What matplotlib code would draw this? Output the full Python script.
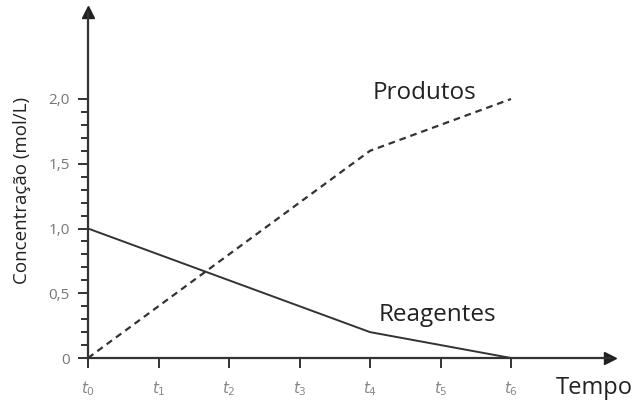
import matplotlib.pyplot as plt
from matplotlib.ticker import FixedLocator

plt.rcParams['font.family'] = ['Open Sans', 'DejaVu Sans']

# data
tempos = [0, 1, 2, 3, 4, 5, 6]
tempo_labels = ['$t_0$', '$t_1$', '$t_2$', '$t_3$', '$t_4$', '$t_5$', '$t_6$']
reagentes = [1.0, 0.8, 0.6, 0.4, 0.2, 0.1, 0.0]
produtos = [0.0, 0.4, 0.8, 1.2, 1.6, 1.8, 2.0]
y_ticks = [0, 0.5, 1.0, 1.5, 2.0]
y_labels = ['0', '0,5', '1,0', '1,5', '2,0']
y_minor = [i / 10 for i in range(21)]

W, H = 634, 403
fig = plt.figure(figsize=(W / 100, H / 100), dpi=100)
x0, y0, x1, y1 = 88, 358, 610, 12
ax = fig.add_axes([x0 / W, (H - y0) / H, (x1 - x0) / W, (y0 - y1) / H])
ax.set_xlim(0, (x1 - x0) / 70.5)
ax.set_ylim(0, (y0 - y1) / 129.5)

axis_col = '#333333'
ax.plot(tempos, reagentes, color='#333333', lw=1.4, clip_on=False)
ax.plot(tempos, produtos, color='#333333', lw=1.6, ls=(0, (3, 2.2)), clip_on=False)

for s in ['top', 'right']:
    ax.spines[s].set_visible(False)
for s in ['left', 'bottom']:
    ax.spines[s].set_color(axis_col)
    ax.spines[s].set_linewidth(1.6)

# arrow heads
ax.plot(1, 0, '>', color='#222222', ms=9, transform=ax.transAxes, clip_on=False)
ax.plot(0, 1, '^', color='#222222', ms=9, transform=ax.transAxes, clip_on=False)

ax.set_yticks(y_ticks)
ax.set_yticklabels(y_labels, color='#777777', fontsize=11)
ax.yaxis.set_minor_locator(FixedLocator(y_minor))
ax.tick_params(axis='y', which='major', length=7, width=1.4, color=axis_col, pad=6)
ax.tick_params(axis='y', which='minor', length=5, width=1.4, color=axis_col)
ax.set_xticks(tempos)
ax.set_xticklabels(tempo_labels, color='#888888', fontsize=11)
ax.tick_params(axis='x', length=7, width=1.4, color=axis_col, pad=8)

fig.text(22 / W, 1 - 190 / H, 'Concentração (mol/L)', rotation=90, fontsize=13.5,
         ha='center', va='center', color='#222222')
fig.text(594 / W, 1 - 388 / H, 'Tempo', fontsize=17, ha='center', va='center', color='#222222')
ax.text(4.77, 2.05, 'Produtos', fontsize=17.5, ha='center', va='center', color='#222222')
ax.text(4.96, 0.33, 'Reagentes', fontsize=17.5, ha='center', va='center', color='#222222')

fig.savefig('out.png', dpi=100)
